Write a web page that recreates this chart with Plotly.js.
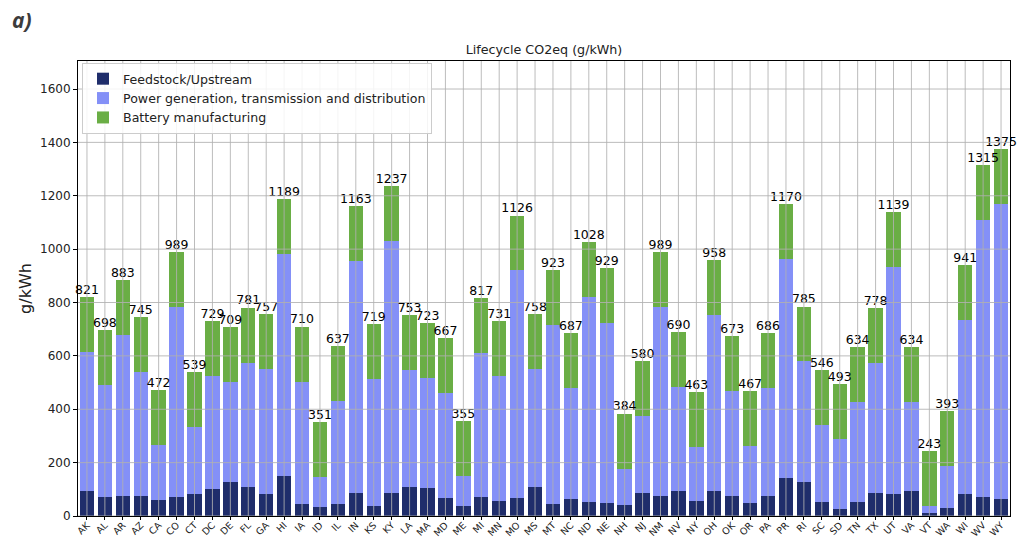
<!DOCTYPE html>
<html>
<head>
<meta charset="utf-8">
<script src="https://cdn.plot.ly/plotly-3.0.1.min.js"></script>
<style>html,body{margin:0;padding:0;background:#fff;}#chart{width:1022px;height:538px;}</style>
</head>
<body>
<div id="chart"></div>
<script>
const states = ["AK","AL","AR","AZ","CA","CO","CT","DC","DE","FL","GA","HI","IA","ID","IL","IN","KS","KY","LA","MA","MD","ME","MI","MN","MO","MS","MT","NC","ND","NE","NH","NJ","NM","NV","NY","OH","OK","OR","PA","PR","RI","SC","SD","TN","TX","UT","VA","VT","WA","WI","WV","WY"];
const totals = [821,698,883,745,472,989,539,729,709,781,757,1189,710,351,637,1163,719,1237,753,723,667,355,817,731,1126,758,923,687,1028,929,384,580,989,690,463,958,673,467,686,1170,785,546,493,634,778,1139,634,243,393,941,1315,1375];
const feedstock = [95,71,76,76,60,71,81,100,127,107,81,151,45,32,45,87,37,85,107,104,69,37,72,56,69,107,45,65,54,50,41,85,76,92,56,92,76,50,76,142,127,54,25,54,87,81,92,11,30,81,72,65];
const powerGen = [520,421,601,463,206,712,252,423,376,468,470,832,459,113,386,870,476,946,440,413,392,112,539,469,851,445,672,416,768,673,137,289,707,392,201,660,391,211,404,822,452,286,262,374,485,852,336,26,157,654,1037,1104];
const battery = [206,206,206,206,206,206,206,206,206,206,206,206,206,206,206,206,206,206,206,206,206,206,206,206,206,206,206,206,206,206,206,206,206,206,206,206,206,206,206,206,206,206,206,206,206,206,206,206,206,206,206,206];
const seriesNames = ["Feedstock/Upstream","Power generation, transmission and distribution","Battery manufacturing"];
const yTicks = [0,200,400,600,800,1000,1200,1400,1600];

const FONT = "DejaVu Sans, Liberation Sans, sans-serif";
const colors = ["#1f2d6b","#8490f7","#6aae45"];

const traces = [
  {type:"bar", name:seriesNames[0], x:states, y:feedstock, marker:{color:colors[0]}, hoverinfo:"skip"},
  {type:"bar", name:seriesNames[1], x:states, y:powerGen, marker:{color:colors[1]}, hoverinfo:"skip"},
  {type:"bar", name:seriesNames[2], x:states, y:battery, marker:{color:colors[2]}, hoverinfo:"skip"},
  {type:"scatter", mode:"text", x:states, y:totals, text:totals.map(String), textposition:"top center",
   textfont:{family:FONT, size:12.5, color:"#000"}, showlegend:false, cliponaxis:false, hoverinfo:"skip"}
];

const shapes = [];
states.forEach(function(s){
  shapes.push({type:"line", layer:"above", xref:"x", yref:"paper", x0:s, x1:s, y0:0, y1:1,
    line:{color:"rgba(176,176,176,0.85)", width:1}});
});
yTicks.forEach(function(v){
  shapes.push({type:"line", layer:"above", xref:"paper", yref:"y", x0:0, x1:1, y0:v, y1:v,
    line:{color:"rgba(176,176,176,0.85)", width:1}});
});

const L = 78, R = 12, T = 61, B = 22;
const W = 1022 - L - R, H = 538 - T - B;

const layout = {
  width:1022, height:538,
  margin:{l:L, r:R, t:T, b:B, pad:0},
  paper_bgcolor:"#fff", plot_bgcolor:"#fff",
  barmode:"stack", bargap:0.2,
  font:{family:FONT, size:12, color:"#222"},
  title:{text:"Lifecycle CO2eq (g/kWh)", font:{family:FONT, size:12.7, color:"#222"},
         x:0.5, xref:"paper", xanchor:"center", y:1-(50/538), yanchor:"middle"},
  xaxis:{type:"category", range:[-0.5, states.length-0.5], tickangle:-45,
         tickfont:{family:FONT, size:9.5, color:"#222"}, ticklabelstandoff:-4,
         showgrid:false, showline:true, mirror:true, linecolor:"#000", linewidth:1,
         ticks:"outside", ticklen:3, tickcolor:"#000", zeroline:false, fixedrange:true},
  yaxis:{range:[0,1705], tickvals:yTicks, ticktext:yTicks.map(String),
         tickfont:{family:FONT, size:12, color:"#222"},
         showgrid:false, showline:true, mirror:true, linecolor:"#000", linewidth:1,
         ticks:"outside", ticklen:4, tickcolor:"#000", zeroline:false,
         title:{text:"g/kWh", font:{family:FONT, size:16, color:"#222"}, standoff:4}},
  legend:{x:(82-L)/W, y:1-(63-T)/H, xanchor:"left", yanchor:"top",
          bgcolor:"rgba(255,255,255,0.85)", bordercolor:"#cccccc", borderwidth:1,
          font:{family:FONT, size:12.6, color:"#222"}, tracegroupgap:0, traceorder:"normal"},
  shapes:shapes,
  annotations:[{text:"<b><i>a)</i></b>", xref:"paper", yref:"paper",
    x:(10-L)/W, y:1+(T-20)/H, xanchor:"left", yanchor:"middle", showarrow:false,
    font:{family:"Open Sans, sans-serif", size:21, color:"#3c3c3c"}}]
};

Plotly.newPlot("chart", traces, layout, {displayModeBar:false, staticPlot:true});
</script>
</body>
</html>
